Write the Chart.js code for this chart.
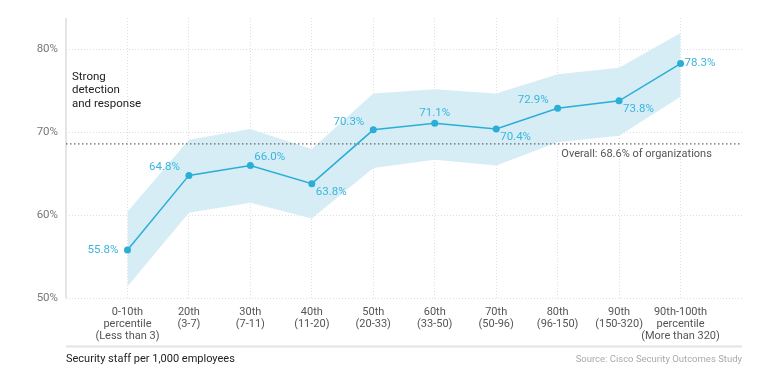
<!DOCTYPE html>
<html>
<head>
<meta charset="utf-8">
<script src="https://cdn.jsdelivr.net/npm/chart.js@4/dist/chart.umd.min.js"></script>
<style>
  html, body { margin: 0; padding: 0; background: #fff; }
  #wrap { position: relative; width: 768px; height: 372px; }
</style>
</head>
<body>
<div id="wrap"><canvas id="c" width="768" height="372"></canvas></div>
<script>
// ---- Data ----
const categories = [
  ['0-10th', 'percentile', '(Less than 3)'],
  ['20th', '(3-7)'],
  ['30th', '(7-11)'],
  ['40th', '(11-20)'],
  ['50th', '(20-33)'],
  ['60th', '(33-50)'],
  ['70th', '(50-96)'],
  ['80th', '(96-150)'],
  ['90th', '(150-320)'],
  ['90th-100th', 'percentile', '(More than 320)']
];
const values = [55.8, 64.8, 66.0, 63.8, 70.3, 71.1, 70.4, 72.9, 73.8, 78.3];
const upperBand = [60.4, 69.1, 70.4, 68.0, 74.7, 75.2, 74.7, 77.0, 77.8, 82.0];
const lowerBand = [51.4, 60.3, 61.5, 59.6, 65.7, 66.7, 66.0, 68.8, 69.6, 74.3];
const overall = 68.6;
const yTicks = [50, 60, 70, 80];

// label placement per point (style)
const labelPlacement = ['left', 'above-left', 'above-right', 'below-right', 'above-left',
  'above', 'below-right', 'above-left', 'below-right', 'right'];

const FONT = 'Roboto, "Liberation Sans", sans-serif';
const LINE = '#2aaed8';
const LABEL = '#3ab5de';
const BAND = '#d6edf5';

const pts = arr => arr.map((v, i) => ({ x: i, y: v }));

const annotations = {
  id: 'annotations',
  beforeDatasetsDraw(chart) {
    const ctx = chart.ctx, a = chart.chartArea;
    ctx.save();
    ctx.strokeStyle = '#dcdcdc';
    ctx.lineWidth = 1.5;
    ctx.beginPath();
    ctx.moveTo(a.left, a.top);
    ctx.lineTo(a.left, a.bottom);
    ctx.stroke();
    ctx.restore();
  },
  afterDatasetsDraw(chart) {
    const ctx = chart.ctx;
    const xs = chart.scales.x, ys = chart.scales.y;
    ctx.save();
    // point labels
    ctx.font = '11.5px ' + FONT;
    ctx.fillStyle = LABEL;
    ctx.textBaseline = 'middle';
    values.forEach((v, i) => {
      const px = xs.getPixelForValue(i), py = ys.getPixelForValue(v);
      const t = v.toFixed(1) + '%';
      const p = labelPlacement[i];
      let x = px, y = py, align = 'center';
      if (p === 'left') { x = px - 9; align = 'right'; }
      else if (p === 'right') { x = px + 4; align = 'left'; }
      else if (p === 'above') { y = py - 10.5; }
      else if (p === 'above-left') { x = px - 9; y = py - 8; align = 'right'; }
      else if (p === 'above-right') { x = px + 4; y = py - 8; align = 'left'; }
      else if (p === 'below-right') { x = px + 4; y = py + 8.5; align = 'left'; }
      ctx.textAlign = align;
      ctx.fillText(t, x, y);
    });
    // overall label
    ctx.font = '11px ' + FONT;
    ctx.fillStyle = '#555';
    ctx.textAlign = 'left';
    ctx.fillText('Overall: ' + overall.toFixed(1) + '% of organizations', xs.getPixelForValue(7.06), ys.getPixelForValue(overall) + 10.5);
    // Strong detection label
    ctx.font = '11.5px ' + FONT;
    ctx.fillStyle = '#222';
    const lx = chart.chartArea.left + 6;
    ctx.fillText('Strong', lx, 77);
    ctx.fillText('detection', lx, 90.5);
    ctx.fillText('and response', lx, 104);
    ctx.restore();
  },
  afterDraw(chart) {
    const ctx = chart.ctx;
    const a = chart.chartArea;
    ctx.save();
    ctx.strokeStyle = '#e4e4e4';
    ctx.lineWidth = 2;
    ctx.beginPath();
    ctx.moveTo(a.left, 346.5);
    ctx.lineTo(a.right, 346.5);
    ctx.stroke();
    ctx.textBaseline = 'middle';
    ctx.font = '11px ' + FONT;
    ctx.fillStyle = '#222';
    ctx.textAlign = 'left';
    ctx.fillText('Security staff per 1,000 employees', a.left, 359);
    ctx.font = '9.5px ' + FONT;
    ctx.fillStyle = '#aaa';
    ctx.textAlign = 'right';
    ctx.fillText('Source: Cisco Security Outcomes Study', a.right, 360);
    ctx.restore();
  }
};

new Chart(document.getElementById('c'), {
  type: 'line',
  data: {
    datasets: [
      {
        label: 'value', data: pts(values), borderColor: LINE, backgroundColor: LINE,
        borderWidth: 1.5, pointRadius: 3.5, pointHoverRadius: 3.5, pointBorderWidth: 0,
        tension: 0, fill: false, order: 0
      },
      {
        label: 'overall', data: [{ x: -1, y: overall }, { x: 10, y: overall }],
        borderColor: '#666', borderWidth: 1.2, borderDash: [1.5, 2.5], pointRadius: 0,
        fill: false, order: 1
      },
      {
        label: 'upper', data: pts(upperBand), borderWidth: 0, borderColor: 'rgba(0,0,0,0)',
        backgroundColor: BAND, pointRadius: 0, fill: '+1', tension: 0, order: 2
      },
      {
        label: 'lower', data: pts(lowerBand), borderWidth: 0, borderColor: 'rgba(0,0,0,0)',
        pointRadius: 0, fill: false, tension: 0, order: 3
      }
    ]
  },
  options: {
    responsive: false,
    animation: false,
    events: [],
    layout: { padding: { top: 18, right: 26, bottom: 0, left: 0 } },
    plugins: { legend: { display: false }, tooltip: { enabled: false } },
    scales: {
      x: {
        type: 'linear', min: -1, max: 10,
        afterBuildTicks: s => { s.ticks = []; for (let i = 0; i < categories.length; i++) s.ticks.push({ value: i }); },
        afterFit: s => { s.height = 74; },
        ticks: {
          autoSkip: false, maxRotation: 0, minRotation: 0, padding: 8,
          color: '#555', font: { family: FONT, size: 11, lineHeight: 1.1 },
          callback: v => (v >= 0 && v < categories.length) ? categories[v] : ''
        },
        grid: { color: '#dedede', lineWidth: 1, drawTicks: false },
        border: { display: false, dash: [1, 2] }
      },
      y: {
        min: 50, max: 83.8,
        afterBuildTicks: s => { s.ticks = yTicks.map(v => ({ value: v })); },
        afterFit: s => { s.width = 66; },
        ticks: {
          padding: 8, color: '#777', font: { family: FONT, size: 11.5 },
          callback: v => v + '%'
        },
        grid: { color: '#dedede', lineWidth: 1, drawTicks: false },
        border: { display: false, dash: [1, 2] }
      }
    }
  },
  plugins: [annotations]
});
</script>
</body>
</html>
